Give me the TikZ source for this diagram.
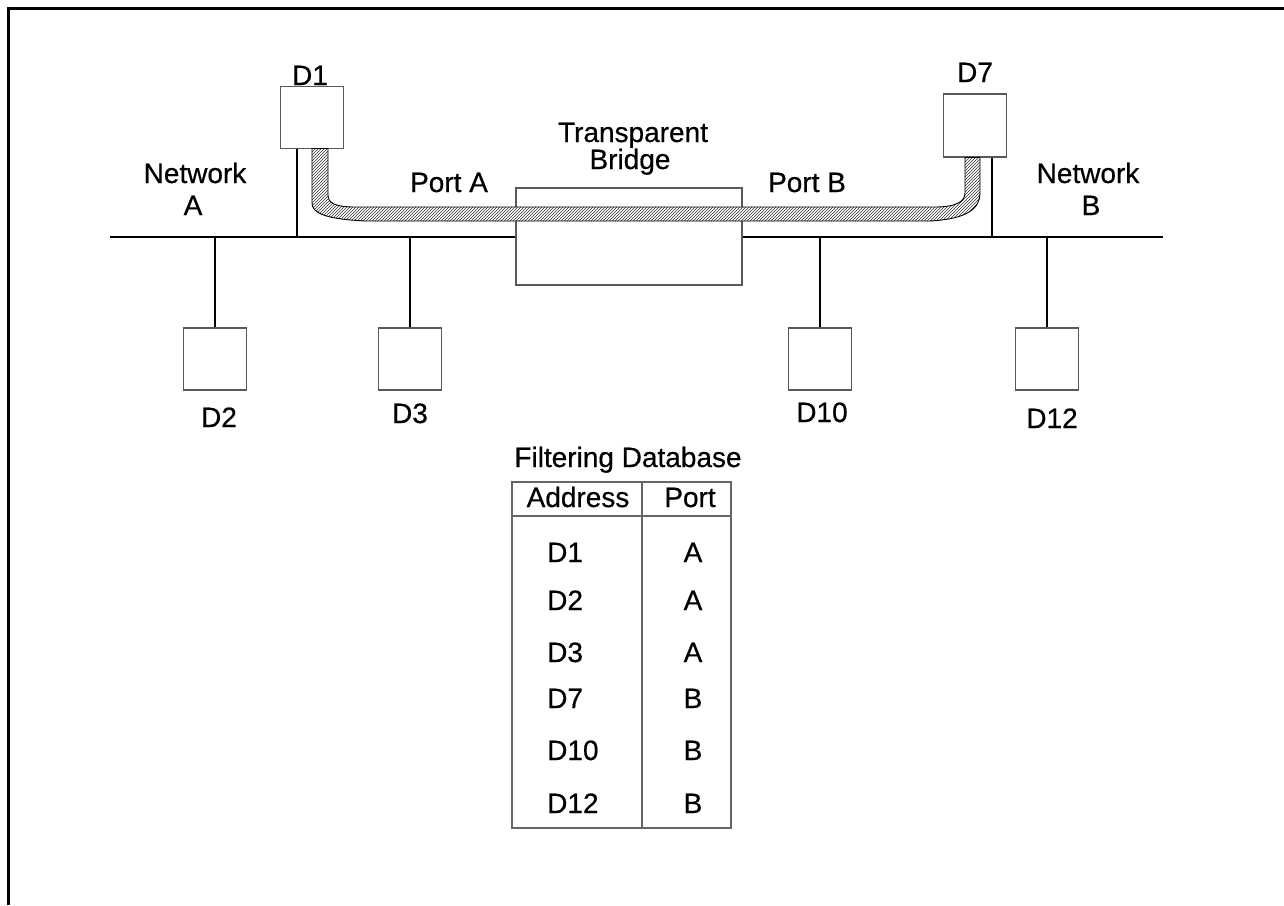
\documentclass[tikz,border=0pt]{standalone}
\usepackage{fontspec}
\setmainfont{Liberation Sans}
\newfontfamily\labelfont[BoldFont=Liberation Sans, BoldFeatures={FakeBold=0.5}]{Liberation Sans}
\usetikzlibrary{patterns}
\begin{document}
\begin{tikzpicture}[x=1pt,y=-1pt,
  lbl/.style={font=\labelfont\bfseries\fontsize{28}{30}\selectfont, inner sep=0pt, anchor=base},
  lblw/.style={lbl, anchor=base west},
  dev/.style={draw=black!65, line width=1.2pt, minimum width=63pt, minimum height=62pt, inner sep=0pt, fill=white},
  bridgebox/.style={draw=black!65, line width=1.2pt, minimum width=226pt, minimum height=97pt, inner sep=0pt},
  busline/.style={line width=2.6pt},
  dropline/.style={line width=2pt},
  gridline/.style={draw=black!60, line width=1.2pt},
  band/.style={draw=black, line width=0.9pt, pattern=north east lines, pattern color=black!80}]
\useasboundingbox (0,0) rectangle (1284,905);
% frame
\draw[line width=3pt] (8,905) -- (8,8) -- (1284,8);

% devices
\node[dev] (D1) at (312,117.5) {};
\node[dev, minimum height=63pt] (D7) at (975,125.5) {};
\node[dev] (D2) at (215,359) {};
\node[dev] (D3) at (410,359) {};
\node[dev] (D10) at (820,359) {};
\node[dev] (D12) at (1047,359) {};
\node[bridgebox] (br) at (629,236.5) {};

% bus
\coordinate (busL) at (110,237);
\coordinate (busR) at (1163,237);
\draw[busline] (busL) -- (busL -| br.west);
\draw[busline] (busL -| br.east) -- (busR);

% drops
\draw[dropline] ([xshift=-15pt]D1.south) -- ([xshift=-15pt]D1.south |- busL);
\draw[dropline] ([xshift=17pt]D7.south) -- ([xshift=17pt]D7.south |- busL);
\draw[dropline] (D2.north) -- (D2.north |- busL);
\draw[dropline] (D3.north) -- (D3.north |- busL);
\draw[dropline] (D10.north) -- (D10.north |- busL);
\draw[dropline] (D12.north) -- (D12.north |- busL);

% hatched path of the frame
\fill[white] (312,148.5) -- (312,203) .. controls (312,213) and (325,219) .. (365,221) -- (930,221)
  .. controls (968,219) and (980,208) .. (980,193) -- (980,157.5) -- (965,157.5) -- (965,193)
  .. controls (965,202) and (955,207) .. (935,207) -- (355,207)
  .. controls (335,207) and (328,203) .. (328,195) -- (328,148.5) -- cycle;
\draw[band] (312,148.5) -- (312,203) .. controls (312,213) and (325,219) .. (365,221) -- (930,221)
  .. controls (968,219) and (980,208) .. (980,193) -- (980,157.5) -- (965,157.5) -- (965,193)
  .. controls (965,202) and (955,207) .. (935,207) -- (355,207)
  .. controls (335,207) and (328,203) .. (328,195) -- (328,148.5) -- cycle;

% labels
\node[lbl] (tD1) at (310,85) {D1};
\node[lbl] (tD7) at (975,82) {D7};
\node[lbl] (tNA1) at (195,183) {Network};
\node[lbl] (tNA2) at (193,215) {A};
\node[lbl] (tNB1) at (1088,183) {Network};
\node[lbl] (tNB2) at (1091,215) {B};
\node[lbl] (tTB1) at (633,142) {Transparent};
\node[lbl] (tTB2) at (630,169) {Bridge};
\node[lbl] (tPA) at (449,192) {Port A};
\node[lbl] (tPB) at (807,192) {Port B};
\node[lbl] (tD2) at (219,427) {D2};
\node[lbl] (tD3) at (410,423) {D3};
\node[lbl] (tD10) at (822,422) {D10};
\node[lbl] (tD12) at (1052,428) {D12};

% filtering database
\node[lbl] (tFD) at (628,467) {Filtering Database};
\draw[gridline] (512,482) rectangle (731,828);
\draw[gridline] (642,482) -- (642,828);
\draw[gridline] (512,516) -- (731,516);
\node[lbl] (hA) at (578,507) {Address};
\node[lbl] (hP) at (690,507) {Port};
\node[lblw] (r1) at (547,562) {D1};
\node[lblw] (r2) at (547,610) {D2};
\node[lblw] (r3) at (547,662) {D3};
\node[lblw] (r4) at (547,708) {D7};
\node[lblw] (r5) at (547,760) {D10};
\node[lblw] (r6) at (547,813) {D12};
\node[lbl] (p1) at (693,562) {A};
\node[lbl] (p2) at (693,610) {A};
\node[lbl] (p3) at (693,662) {A};
\node[lbl] (p4) at (693,708) {B};
\node[lbl] (p5) at (693,760) {B};
\node[lbl] (p6) at (693,813) {B};
\end{tikzpicture}
\end{document}
